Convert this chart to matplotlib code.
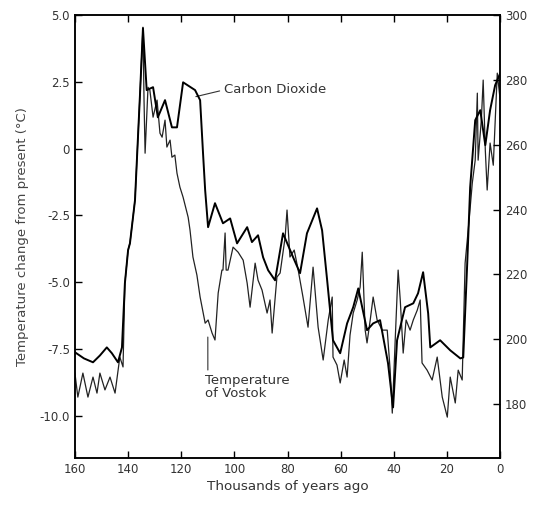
import numpy as np
import matplotlib
matplotlib.use("Agg")
import matplotlib.pyplot as plt

# Vostok ice core: CO2 (ppmv, right axis) and temperature change (deg C, left axis)
co2_age = [160, 156.6, 153.2, 150.6, 148, 146.1, 143.8, 142.3, 141.2, 140, 139.3,
           137.4, 135.5, 134.4, 133, 130.6, 128.8, 126.1, 123.5, 121.6, 119.3,
           114.8, 112.9, 111.8, 111, 109.9, 107.3, 104.3, 101.6, 99, 95.2, 93.4,
           91.1, 89.2, 87.3, 84.7, 81.7, 77.9, 75.3, 72.7, 68.9, 67, 65.1, 62.9,
           60.2, 57.6, 55.3, 53.4, 50.1, 47.8, 45.2, 42.2, 40.3, 38.8, 35.8, 32.7,
           30.9, 29, 27.1, 26.3, 22.6, 18.8, 15, 13.9, 12.4, 11.3, 9.4, 7.5, 5.6,
           3.8, 1.9, 0]
co2_ppm = [196, 194.1, 192.9, 195, 197.5, 195.7, 192.9, 197.5, 217.3, 227.5, 229.6,
           242.9, 275.9, 296, 276.9, 277.8, 268.5, 273.8, 265.4, 265.4, 279.3,
           276.9, 273.8, 257.4, 246, 234.6, 242, 235.8, 237.3, 229.6, 234.6, 230,
           232.1, 225.3, 221.3, 218.2, 232.7, 225.3, 220.4, 232.7, 240.4, 233.6,
           218.2, 199.7, 195.7, 204.9, 209.9, 215.7, 202.8, 204.9, 205.9, 192.6,
           179, 199.7, 209.9, 211.1, 214.2, 220.7, 208, 197.5, 199.7, 196.6, 194.1,
           194.4, 223.5, 246.9, 267.6, 270.7, 259.9, 270.7, 278.4, 282.1]

temp_age = [160, 158.9, 157, 155.1, 153.2, 151.7, 150.6, 148.7, 146.8, 144.9, 143.1,
            141.9, 141.2, 140, 139.3, 137.4, 135.5, 134.4, 134, 133.6, 132.5, 131.8,
            130.6, 129.1, 128, 127.2, 126.1, 125.4, 124.2, 123.5, 122.4, 121.6,
            120.5, 119.3, 117.4, 116.7, 115.6, 114.1, 112.9, 111, 109.9, 108.4,
            107.3, 106.1, 104.7, 104.3, 103.5, 103.1, 102.4, 100.5, 98.6, 96.7,
            95.2, 94.1, 92.2, 91.1, 89.6, 87.7, 86.6, 85.8, 84, 82.8, 80.9, 80.2,
            79.1, 77.5, 76, 74.2, 72.3, 70.4, 68.5, 66.6, 64.7, 63.2, 62.9, 61.4,
            60.2, 58.7, 57.6, 56.5, 55.3, 53.8, 52.7, 51.9, 50.8, 50.1, 48.9, 47.8,
            46.3, 44.4, 42.5, 41.4, 40.6, 39.5, 38.4, 37.6, 36.5, 35.4, 33.9, 32.7,
            31.2, 30.1, 29.4, 27.5, 25.6, 23.7, 21.8, 19.9, 18.8, 16.9, 15.8, 14.3,
            13.2, 11.7, 10.5, 9.4, 8.6, 8.3, 7.1, 6.4, 5.6, 4.9, 3.8, 2.6, 1.1, 0]
temp_c = [-8.41, -9.31, -8.41, -9.31, -8.56, -9.16, -8.41, -9.04, -8.56, -9.16, -7.81,
          -8.18, -5.04, -3.8, -3.54, -1.93, 2.08, 4.55, 1.82, -0.17, 2.3, 2.19,
          1.18, 1.82, 0.58, 0.43, 1.07, 0.06, 0.32, -0.32, -0.24, -0.92,
          -1.44, -1.82, -2.57, -3.05, -4.06, -4.74, -5.56, -6.54, -6.42, -6.91,
          -7.17, -5.41, -4.55, -4.55, -3.16, -4.55, -4.55, -3.69, -3.88, -4.18,
          -5.04, -5.94, -4.29, -4.93, -5.3, -6.16, -5.67, -6.91, -4.81, -4.66, -3.31, -2.3,
          -4.06, -3.8, -4.55, -5.56, -6.69, -4.44, -6.69, -7.92, -6.42, -5.56, -7.81, -8.11,
          -8.78, -7.92, -8.56, -6.99, -6.16, -5.67, -5.19, -3.88, -6.8, -7.28, -6.42, -5.56,
          -6.42, -6.8, -6.8, -8.3, -9.91, -7.17, -4.55, -5.67, -7.66, -6.42, -6.8, -6.42,
          -6.05, -5.67, -8.03, -8.3, -8.67, -7.81, -9.31, -10.06, -8.56, -9.53, -8.3, -8.67,
          -4.29, -2.68, -1.29, -0.43, 2.08, -0.43, 1.07, 2.57, -0.06, -1.55, 0.21, -0.62, 2.83, 1.82]

x_ticks = [160, 140, 120, 100, 80, 60, 40, 20, 0]
t_ticks = [5.0, 2.5, 0, -2.5, -5.0, -7.5, -10.0]
t_labels = ["5.0", "2.5", "0", "-2.5", "-5.0", "-7.5", "-10.0"]
c_ticks = [180, 200, 220, 240, 260, 280, 300]

fig = plt.figure(figsize=(5.39, 5.08), dpi=100)
ax = fig.add_axes([0.139, 0.098, 0.789, 0.872])
ax2 = ax.twinx()

ax.plot(temp_age, temp_c, color="#222222", lw=0.9)
ax2.plot(co2_age, co2_ppm, color="black", lw=1.4)

ax.set_xlim(160, 0)
ax.set_ylim(-11.6, 5.0)
ax2.set_ylim(163.3, 300)

ax.set_xticks(x_ticks)
ax.set_xticklabels([str(v) for v in x_ticks], fontsize=8.5, color="#333333")
ax.set_yticks(t_ticks)
ax.set_yticklabels(t_labels, fontsize=8.5, color="#333333")
ax2.set_yticks(c_ticks)
ax2.set_yticklabels([str(v) for v in c_ticks], fontsize=8.5, color="#333333")

ax.tick_params(axis="x", direction="in", length=5, top=True, width=1.0)
ax.tick_params(axis="y", direction="in", length=5, width=1.0)
ax2.tick_params(axis="y", direction="in", length=5, width=1.0)
for a in (ax, ax2):
    for s in a.spines.values():
        s.set_linewidth(1.1)

ax.set_xlabel("Thousands of years ago", fontsize=9.7, color="#333333", labelpad=3)
ax.set_ylabel("Temperature change from present (\u00b0C)", fontsize=9.5, color="#444444",
              labelpad=8)

ax.annotate("Carbon Dioxide", xy=(114.5, 1.95), xytext=(104, 2.2),
            fontsize=9.5, color="#333333", va="center", ha="left",
            arrowprops=dict(arrowstyle="-", color="#333333", lw=0.8,
                            relpos=(0, 0.5), shrinkA=1, shrinkB=0))
ax.annotate("Temperature\nof Vostok", xy=(110, -7.06), xytext=(111.1, -8.45),
            fontsize=9.5, color="#333333", va="top", ha="left", linespacing=1.0,
            arrowprops=dict(arrowstyle="-", color="#333333", lw=0.8,
                            relpos=(0.035, 1.0), shrinkA=1, shrinkB=0))

fig.savefig("out.png", dpi=100)
